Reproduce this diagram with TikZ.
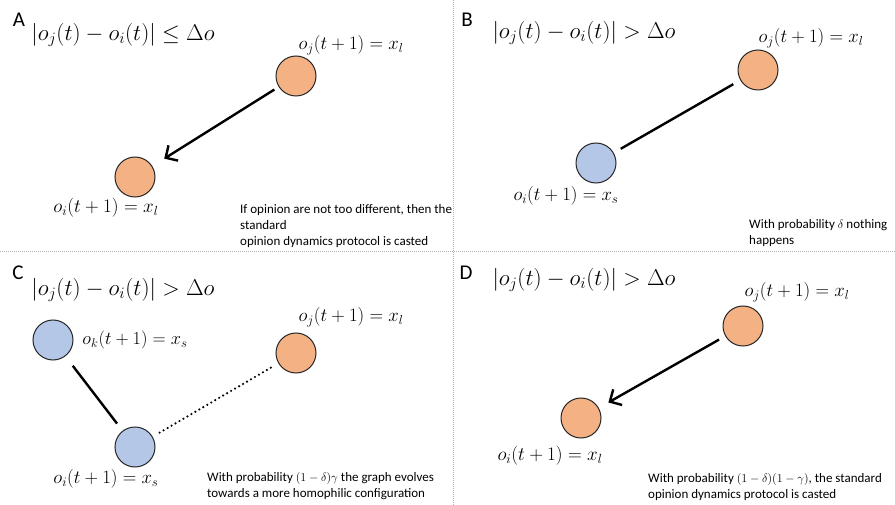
\documentclass[tikz,border=0pt]{standalone}
\usepackage{fontspec}
\setmainfont{Carlito}
\usetikzlibrary{arrows.meta}
\definecolor{orangefill}{HTML}{F4B183}
\definecolor{bluefill}{HTML}{B4C7E7}
\newcommand\condfit[1]{\resizebox{183pt}{!}{$#1$}}
\newcommand\labfit[1]{\resizebox{105pt}{!}{$#1$}}
\begin{document}
\begin{tikzpicture}[x=1pt,y=-1pt,
 opn/.style={circle, draw=black!85, line width=1pt, minimum size=40pt, inner sep=0pt},
 hi/.style={opn, fill=orangefill},
 lo/.style={opn, fill=bluefill},
 panel/.style={font=\fontsize{21}{24}\selectfont, inner sep=0pt},
 cond/.style={font=\fontsize{21}{24}\selectfont, inner sep=0pt},
 lab/.style={font=\fontsize{17}{20}\selectfont, inner sep=0pt},
 note/.style={font=\fontsize{13}{16}\selectfont, inner sep=0pt, anchor=north west, align=left},
 gridline/.style={gray!60, line width=1pt, dash pattern=on 1pt off 1pt},
 link/.style={line width=2.4pt},
 push/.style={link, -{Straight Barb[length=9pt,width=18pt,line width=2.4pt]}},
 weak/.style={line width=2.4pt, dash pattern=on 0pt off 4.6pt, line cap=round}]

\useasboundingbox (0,0) rectangle (895,505);
\fill[white] (0,0) rectangle (895,505);

% panel separators
\draw[gridline] (453,0) -- (453,505);
\draw[gridline] (0,252) -- (895,252);

% ---------- Panel A ----------
\node[panel] (letA) at (19,20) {A};
\node[cond] (condA) at (123,35) {\condfit{\bigl|o_j(t) - o_i(t)\bigr| \le \Delta o}};
\node[hi] (jA) at (296,76) {};
\node[hi] (iA) at (135,177) {};
\node[lab] (ljA) at (351,45) {\labfit{o_j(t+1) = x_l}};
\node[lab] (liA) at (106,208) {\labfit{o_i(t+1) = x_l}};
\draw[push, shorten <=5pt, shorten >=14pt] (jA) -- (iA);
\node[note] (nA) at (240,204) {If opinion are not too different, then the\\standard\\opinion dynamics protocol is casted};

% ---------- Panel B ----------
\node[panel] (letB) at (467,20) {B};
\node[cond] (condB) at (584,33) {\condfit{\bigl|o_j(t) - o_i(t)\bigr| > \Delta o}};
\node[hi] (jB) at (758,70) {};
\node[lo] (iB) at (596,163) {};
\node[lab] (ljB) at (811,38) {\labfit{o_j(t+1) = x_l}};
\node[lab] (liB) at (566,196) {\labfit{o_i(t+1) = x_s}};
\draw[link, shorten <=8pt, shorten >=8pt] (iB) -- (jB);
\node[note] (nB) at (749,219) {With probability $\delta$ nothing\\happens};

% ---------- Panel C ----------
\node[panel] (letC) at (18,273) {C};
\node[cond] (condC) at (123,290) {\condfit{\bigl|o_j(t) - o_i(t)\bigr| > \Delta o}};
\node[lo] (kC) at (53,340) {};
\node[hi] (jC) at (296,353) {};
\node[lo] (iC) at (135,447) {};
\node[lab] (lkC) at (135,340) {\labfit{o_k(t+1) = x_s}};
\node[lab] (ljC) at (351,317) {\labfit{o_j(t+1) = x_l}};
\node[lab] (liC) at (106,479) {\labfit{o_i(t+1) = x_s}};
\draw[link, shorten <=12pt, shorten >=9pt] (kC) -- (iC);
\draw[weak, shorten <=8pt, shorten >=7pt] (iC) -- (jC);
\node[note] (nC) at (207,472) {With probability $(1-\delta)\gamma$ the graph evolves\\towards a more homophilic configuration};

% ---------- Panel D ----------
\node[panel] (letD) at (466,273) {D};
\node[cond] (condD) at (584,280) {\condfit{\bigl|o_j(t) - o_i(t)\bigr| > \Delta o}};
\node[hi] (jD) at (743,326) {};
\node[hi] (iD) at (581,418) {};
\node[lab] (ljD) at (797,292) {\labfit{o_j(t+1) = x_l}};
\node[lab] (liD) at (550,456) {\labfit{o_i(t+1) = x_l}};
\draw[push, shorten <=7pt, shorten >=11pt] (jD) -- (iD);
\node[note] (nD) at (648,473) {With probability $(1-\delta)(1-\gamma)$, the standard\\opinion dynamics protocol is casted};
\end{tikzpicture}
\end{document}
